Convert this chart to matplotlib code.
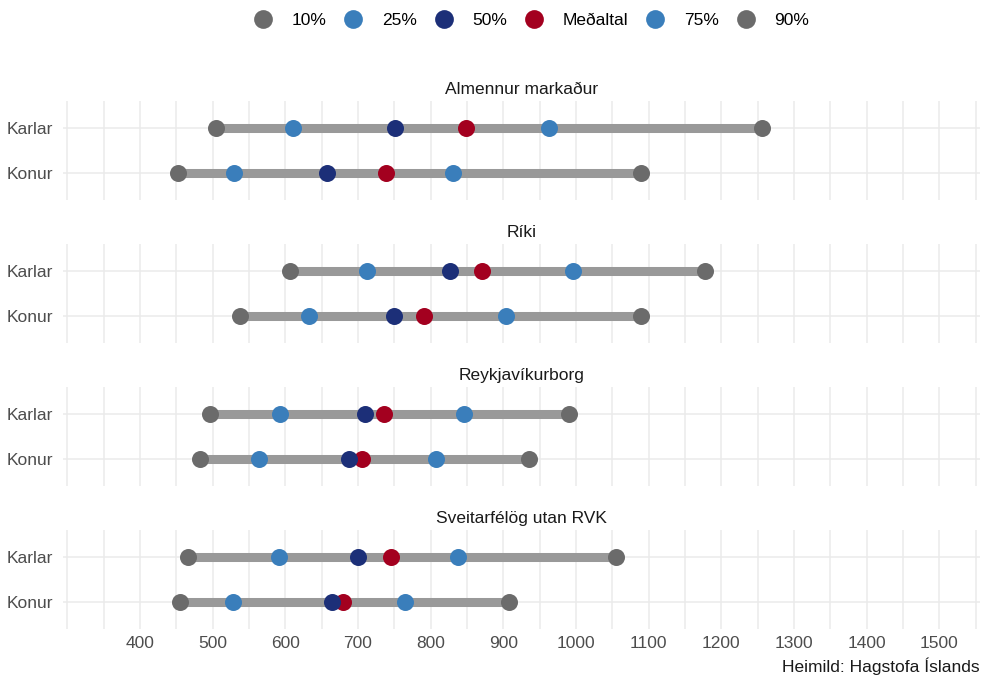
import matplotlib
matplotlib.use("Agg")
import matplotlib.pyplot as plt
from matplotlib.lines import Line2D
from matplotlib.ticker import MultipleLocator

plt.rcParams['font.family'] = ['Liberation Sans', 'DejaVu Sans']

# panels and rows
panels = ["Almennur markaður", "Ríki", "Reykjavíkurborg", "Sveitarfélög utan RVK"]
rows = ["Karlar", "Konur"]

# values, per panel: [Karlar, Konur]
p10 = [[505, 452], [607, 538], [496, 483], [466, 455]]
p25 = [[610, 530], [713, 632], [592, 564], [591, 528]]
p50 = [[751, 658], [827, 750], [709, 687], [700, 664]]
mean = [[848, 738], [871, 791], [736, 706], [746, 679]]
p75 = [[963, 831], [996, 903], [846, 808], [838, 764]]
p90 = [[1256, 1090], [1177, 1090], [990, 935], [1055, 908]]

legend_labels = ["10%", "25%", "50%", "Meðaltal", "75%", "90%"]

GREY = "#6b6b6b"
BLUE = "#3a7ebb"
NAVY = "#1c2f78"
RED = "#a3001f"
SEG = "#999999"
GRID = "#ebebeb"
FS = 12.5

W, H = 981, 682
fig = plt.figure(figsize=(W / 100, H / 100), dpi=100)

left, right = 63, 980
top0, ph, step = 101, 99, 143

for i, title in enumerate(panels):
    top = top0 + step * i
    ax = fig.add_axes([left / W, 1 - (top + ph) / H, (right - left) / W, ph / H])
    ypos = [2, 1]  # Karlar on top
    for j in range(2):
        y = ypos[j]
        ax.plot([p10[i][j], p90[i][j]], [y, y], color=SEG, lw=6.5,
                solid_capstyle="butt", zorder=2)
        # draw order: mean under the median
        for vals, c in [(p10, GREY), (p90, GREY), (p25, BLUE), (p75, BLUE),
                        (mean, RED), (p50, NAVY)]:
            ax.scatter(vals[i][j], y, s=150, color=c, zorder=3, linewidths=0)
    ax.set_xlim(294, 1556)
    ax.set_ylim(0.4, 2.6)
    ax.set_yticks(ypos)
    ax.set_yticklabels(rows)
    ax.xaxis.set_major_locator(MultipleLocator(100))
    ax.xaxis.set_minor_locator(MultipleLocator(50))
    ax.grid(True, which="major", color=GRID, lw=1.1, zorder=0)
    ax.grid(True, which="minor", axis="x", color=GRID, lw=1.1, zorder=0)
    ax.set_axisbelow(True)
    for s in ax.spines.values():
        s.set_visible(False)
    ax.tick_params(which="both", length=0)
    ax.tick_params(axis="y", labelsize=FS, labelcolor="#4d4d4d", pad=7)
    ax.tick_params(axis="x", labelsize=FS, labelcolor="#4d4d4d", pad=5)
    if i < len(panels) - 1:
        ax.set_xticklabels([])
    else:
        ticks = list(range(400, 1501, 100))
        ax.set_xticks(ticks)
        ax.set_xticklabels([str(t) for t in ticks])
    ax.set_title(title, fontsize=FS, color="#1a1a1a", pad=5)

# legend on top
colors = [GREY, BLUE, NAVY, RED, BLUE, GREY]
handles = [Line2D([], [], marker="o", ls="", markersize=13.5, color=c,
                  markeredgewidth=0) for c in colors]
fig.legend(handles, legend_labels, loc="center", bbox_to_anchor=(0.541, 1 - 20 / H),
           ncol=6, frameon=False, fontsize=FS, handletextpad=1.05,
           columnspacing=0.95, handlelength=1.2)

fig.text(980 / W, 1 - 666 / H, "Heimild: Hagstofa Íslands", ha="right",
         va="center", fontsize=FS, color="#1a1a1a")

fig.savefig("out.png", dpi=100)
